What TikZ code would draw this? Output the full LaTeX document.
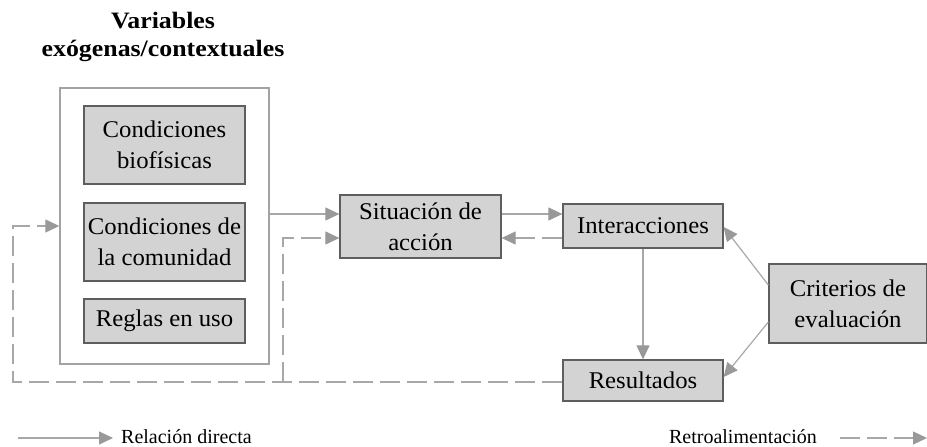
\documentclass[tikz,border=0pt]{standalone}
\usepackage{fontspec}
\setmainfont{Liberation Serif}
\newfontfamily\boxfont[FakeStretch=1.03]{Liberation Serif}
\newfontfamily\titlefont[FakeStretch=1.1]{Liberation Serif}
\usetikzlibrary{arrows.meta}
\definecolor{boxfill}{HTML}{D3D3D3}
\definecolor{boxline}{HTML}{5E5E5E}
\definecolor{outerline}{HTML}{A3A3A3}
\definecolor{arrline}{HTML}{A8A8A8}
\definecolor{tipfill}{HTML}{999999}
\tikzset{
  elem/.style={draw=boxline, line width=1.3pt, fill=boxfill, align=center, inner sep=0pt,
    font=\boxfont\fontsize{24}{31}\selectfont},
  outerbox/.style={draw=outerline, line width=1.4pt, inner sep=0pt},
  conn/.style={draw=arrline, line width=1.2pt, -{Triangle[length=14pt,width=13pt,color=tipfill,fill=tipfill]}},
  fback/.style={conn, dash pattern=on 20pt off 7pt},
  legtext/.style={font=\fontsize{20}{24}\selectfont, inner sep=0pt}
}
\begin{document}
\begin{tikzpicture}[x=1pt,y=-1pt]
\useasboundingbox (0,0) rectangle (927,447);
% title
\node[font=\titlefont\bfseries\fontsize{23.5}{28}\selectfont, align=center, inner sep=0pt] (title) at (163,37) {Variables\\exógenas/contextuales};
% outer box and contents
\node[outerbox, minimum width=209pt, minimum height=276pt] (outer) at (164.5,226) {};
\node[elem, minimum width=161pt, minimum height=78pt] (bio) at (164.5,145) {Condiciones\\biofísicas};
\node[elem, minimum width=161pt, minimum height=78pt] (com) at (164.5,242) {Condiciones de\\la comunidad};
\node[elem, minimum width=161pt, minimum height=44pt] (reg) at (164.5,321) {Reglas en uso};
% main elements
\node[elem, minimum width=161pt, minimum height=63pt] (sit) at (420.5,226.5) {Situación de\\acción};
\node[elem, minimum width=160pt, minimum height=44pt] (int) at (643,226) {Interacciones};
\node[elem, minimum width=160pt, minimum height=41pt] (res) at (643,380.5) {Resultados};
\node[elem, minimum width=158pt, minimum height=79pt] (cri) at (848,303.5) {Criterios de\\evaluación};
% helper coordinates
\coordinate (ya) at (0,214);
\coordinate (yb) at (0,238);
\coordinate (yc) at (0,382);
\coordinate (xl) at (13,0);
\coordinate (xm) at (283,0);
% direct relations
\draw[conn] (outer.east |- ya) -- (sit.west |- ya);
\draw[conn] (sit.east |- ya) -- (int.west |- ya);
\draw[conn] (int.south) -- (res.north);
\draw[conn] ([yshift=18.5pt]cri.west) -- ([yshift=-1pt]int.east);
\draw[conn] ([yshift=-18.5pt]cri.west) -- ([yshift=3.5pt]res.east);
% feedback
\draw[fback] (int.west |- yb) -- (sit.east |- yb);
\draw[fback] (res.west |- yc) -- (xl |- yc) -- (xl |- outer.west) -- (outer.west);
\draw[fback] (xm |- yc) -- (xm |- yb) -- (sit.west |- yb);
% legend
\coordinate (l1a) at (18,438);
\coordinate (l1b) at (113,438);
\node[legtext, anchor=west] (l1t) at (121,437) {Relación directa};
\draw[conn] (l1a) -- (l1b);
\coordinate (l2a) at (840,438);
\coordinate (l2b) at (927,438);
\node[legtext, anchor=east] (l2t) at (817,437) {Retroalimentación};
\draw[fback] (l2a) -- (l2b);
\end{tikzpicture}
\end{document}
